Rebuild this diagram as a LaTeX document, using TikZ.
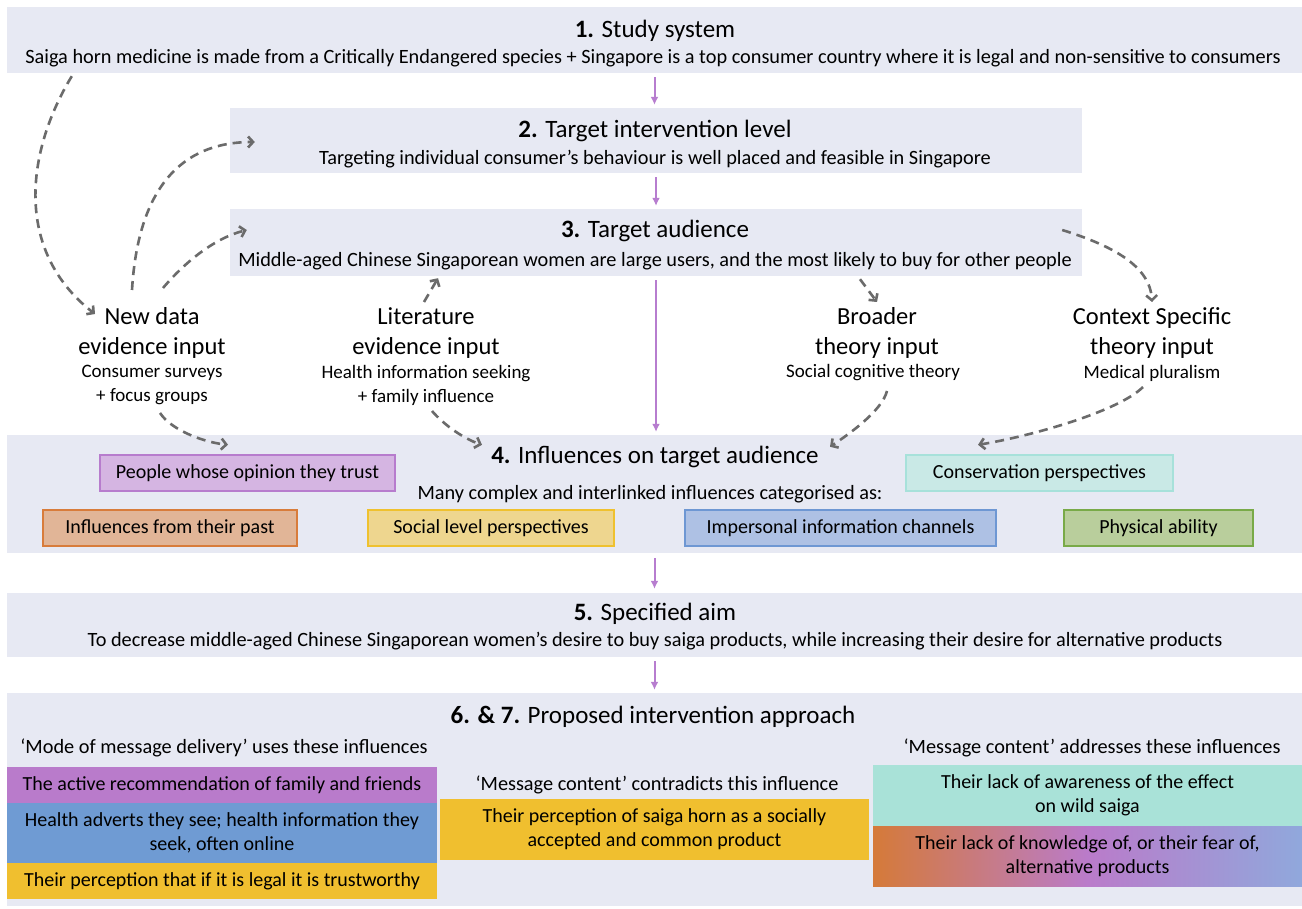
\documentclass[tikz,border=0pt]{standalone}
\usepackage{fontspec}
\setmainfont{Carlito}
\usepackage{tikz}
\usetikzlibrary{positioning}
\usetikzlibrary{arrows.meta}
\usetikzlibrary{calc}
\definecolor{stagebg}{HTML}{E7E9F3}
\definecolor{flowpurple}{HTML}{B77DCF}
\definecolor{linkgrey}{HTML}{6B6B6B}
\definecolor{trustfill}{HTML}{D5B5E2}
\definecolor{trustline}{HTML}{B77CCD}
\definecolor{consfill}{HTML}{C9E9E6}
\definecolor{consline}{HTML}{A7E1DA}
\definecolor{pastfill}{HTML}{E1B597}
\definecolor{pastline}{HTML}{D87C3B}
\definecolor{socfill}{HTML}{EED68F}
\definecolor{socline}{HTML}{EFC12F}
\definecolor{impfill}{HTML}{AEC1E4}
\definecolor{impline}{HTML}{6E97D3}
\definecolor{physfill}{HTML}{B9CE9C}
\definecolor{physline}{HTML}{79AA48}
\definecolor{modepurple}{HTML}{B97BCB}
\definecolor{modeblue}{HTML}{6F9BD3}
\definecolor{modeyellow}{HTML}{F0BF2F}
\definecolor{msgteal}{HTML}{A9E2D8}
\definecolor{fearorange}{HTML}{D57A39}
\definecolor{fearpurple}{HTML}{BA7BCA}
\definecolor{fearblue}{HTML}{90A8DC}
\pgfdeclarehorizontalshading{fearshade}{100bp}{color(0bp)=(fearorange); color(25bp)=(fearorange); color(50bp)=(fearpurple); color(75bp)=(fearblue); color(100bp)=(fearblue)}
\tikzset{my_stage/.style={fill=stagebg, draw=none, inner sep=0pt}}
\tikzset{my_head/.style={font=\fontsize{25}{29}\selectfont, inner sep=0pt}}
\tikzset{my_line/.style={font=\fontsize{20.3}{24}\selectfont, inner sep=0pt}}
\tikzset{my_input/.style={font=\fontsize{24.5}{30}\selectfont, align=center, inner sep=0pt}}
\tikzset{my_input_sub/.style={font=\fontsize{19}{24}\selectfont, align=center, inner sep=0pt}}
\tikzset{my_tag/.style 2 args={draw=#1, fill=#2, line width=2.6pt, minimum height=36pt, inner sep=0pt, font=\fontsize{20}{24}\selectfont}}
\tikzset{my_tile/.style={fill=#1, draw=none, inner sep=0pt, align=center, font=\fontsize{20}{24}\selectfont}}
\tikzset{my_flow/.style={->, >={Latex[length=8pt,width=8pt]}, line width=2pt, draw=flowpurple}}
\tikzset{my_link/.style={->, >={Straight Barb[length=5pt,width=11pt]}, line width=2.6pt, draw=linkgrey, dash pattern=on 9pt off 6pt}}

\begin{document}
\begin{tikzpicture}[x=1pt, y=-1pt]
    \useasboundingbox[fill=white] (0,0) rectangle (1302,909);
    %\draw[help lines, step=50] (0,0) grid (1302,909);

    \node[my_stage, minimum width=1295, minimum height=66] (sys) at (654.5,40) {};
    \node[my_head] (sys_h) at (655,31) {\textbf{1.} Study system};
    \node[my_line] (sys_l) at (653,58) {Saiga horn medicine is made from a Critically Endangered species + Singapore is a top consumer country where it is legal and non-sensitive to consumers};

    \node[my_stage, minimum width=852, minimum height=65] (lvl) at (656,140.5) {};
    \node[my_head] (lvl_h) at (655,131) {\textbf{2.} Target intervention level};
    \node[my_line] (lvl_l) at (655,159) {Targeting individual consumer’s behaviour is well placed and feasible in Singapore};

    \node[my_stage, minimum width=852, minimum height=67] (aud) at (656,242.5) {};
    \node[my_head] (aud_h) at (655,231) {\textbf{3.} Target audience};
    \node[my_line] (aud_l) at (655,261) {Middle-aged Chinese Singaporean women are large users, and the most likely to buy for other people};

    \node[my_input] (nd) at (152,333) {New data\\evidence input};
    \node[my_input_sub] (nds) at (152,385) {Consumer surveys\\+ focus groups};
    \node[my_input] (lit) at (426,333) {Literature\\evidence input};
    \node[my_input_sub] (lits) at (426,385) {Health information seeking\\+ family influence};
    \node[my_input] (brd) at (877,333) {Broader\\theory input};
    \node[my_input_sub] (brds) at (873,373) {Social cognitive theory};
    \node[my_input] (ctx) at (1152,333) {Context Specific\\theory input};
    \node[my_input_sub] (ctxs) at (1152,373) {Medical pluralism};

    \node[my_stage, minimum width=1295, minimum height=118] (infl) at (654.5,494) {};
    \node[my_head] (infl_h) at (655,457) {\textbf{4.} Influences on target audience};
    \node[my_line] (infl_l) at (650,494) {Many complex and interlinked influences categorised as:};
    \node[my_tag={trustline}{trustfill}, minimum width=295] (trust) at (247.5,473) {People whose opinion they trust};
    \node[my_tag={consline}{consfill}, minimum width=267] (cons) at (1039.5,473) {Conservation perspectives};
    \node[my_tag={pastline}{pastfill}, minimum width=254] (past) at (170,528) {Influences from their past};
    \node[my_tag={socline}{socfill}, minimum width=246] (soc) at (491,528) {Social level perspectives};
    \node[my_tag={impline}{impfill}, minimum width=311] (imp) at (840.5,528) {Impersonal information channels};
    \node[my_tag={physline}{physfill}, minimum width=189] (phys) at (1158.5,528) {Physical ability};

    \node[my_stage, minimum width=1295, minimum height=64] (aim) at (654.5,625) {};
    \node[my_head] (aim_h) at (655,614) {\textbf{5.} Specified aim};
    \node[my_line] (aim_l) at (655,641) {To decrease middle-aged Chinese Singaporean women's desire to buy saiga products, while increasing their desire for alternative products};

    \node[my_stage, minimum width=1295, minimum height=213] (appr) at (654.5,799.5) {};
    \node[my_head] (appr_h) at (653,717) {\textbf{6. \& 7.} Proposed intervention approach};
    \node[my_line] (mode_l) at (224,748) {‘Mode of message delivery’ uses these influences};
    \node[my_tile=modepurple, minimum width=430, minimum height=36] (rec) at (222,785) {The active recommendation of family and friends};
    \node[my_tile=modeblue, minimum width=430, minimum height=60] (adv) at (222,833) {Health adverts they see; health information they\\seek, often online};
    \node[my_tile=modeyellow, minimum width=430, minimum height=36] (legal) at (222,881) {Their perception that if it is legal it is trustworthy};
    \node[my_line] (contra_l) at (657,785) {‘Message content’ contradicts this influence};
    \node[my_tile=modeyellow, minimum width=429, minimum height=61] (norm) at (654.5,829.5) {Their perception of saiga horn as a socially\\accepted and common product};
    \node[my_line] (addr_l) at (1092,748) {‘Message content’ addresses these influences};
    \node[my_tile=msgteal, minimum width=429, minimum height=61] (aware) at (1087.5,795.5) {Their lack of awareness of the effect\\on wild saiga};
    \node[my_tile=fearpurple, shading=fearshade, minimum width=429, minimum height=60] (fear) at (1087.5,856) {Their lack of knowledge of, or their fear of,\\alternative products};

    \draw[my_flow] ([yshift=-4pt]sys.south) -- ([yshift=3pt]sys.south |- lvl.north);
    \draw[my_flow] ([yshift=-4pt]lvl.south) -- ([yshift=3pt]aud.north);
    \draw[my_flow] ([yshift=-4pt]aud.south) -- ([yshift=3pt]aud.south |- infl.north);
    \draw[my_flow] ([yshift=-5pt]infl.south) -- ([yshift=4pt]aim.north);
    \draw[my_flow] ([yshift=-4pt]aim.south) -- ([yshift=3pt]appr.north);

    \draw[my_link] ($(sys.south west)+(65,3)$) .. controls +(-45,74) and +(-82,-64) .. ($(nd)+(-57,-19)$);
    \draw[my_link] ($(nd)+(-20,-43)$) .. controls +(6,-100) and +(-75,0) .. ($(lvl.west)+(25,1.5)$);
    \draw[my_link] ($(nd)+(11,-45)$) .. controls +(22,-26) and +(-32,8) .. ($(aud.west)+(17,-12.5)$);
    \draw[my_link] ($(lit)+(-2,-31)$) -- ($(aud.south)+(-218,2)$);
    \draw[my_link] ($(aud.east)+(-20,-12.5)$) .. controls +(48,15) and +(-2,-37) .. ($(ctx)+(0,-31)$);
    \draw[my_link] ($(aud.south)+(204,3)$) -- ($(brd)+(0,-31)$);
    \draw[my_link] ($(nds)+(8,28)$) .. controls +(12,18) and +(-22,-2) .. ($(trust.north)+(-19.5,-9)$);
    \draw[my_link] ($(lits)+(6,26)$) .. controls +(12,14) and +(-18,-6) .. ($(infl.north)+(-172.5,10)$);
    \draw[my_link] ($(brds)+(14,18)$) .. controls +(-5,20) and +(18,-12) .. ($(infl.north)+(175.5,12)$);
    \draw[my_link] ($(ctxs)+(-9,14)$) .. controls +(-25,25) and +(50,-8) .. ($(infl.north)+(323.5,10)$);
\end{tikzpicture}
\end{document}
